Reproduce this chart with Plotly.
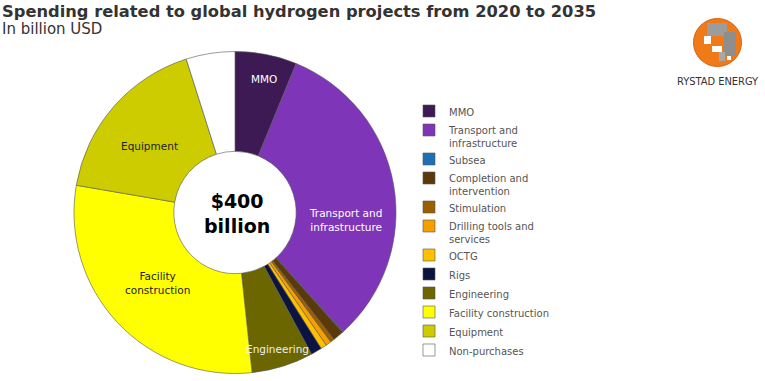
import math
import plotly.graph_objects as go

categories = ["MMO", "Transport and<br>infrastructure", "Subsea", "Completion and<br>intervention",
              "Stimulation", "Drilling tools and<br>services", "OCTG", "Rigs", "Engineering",
              "Facility construction", "Equipment", "Non-purchases"]
values = [24.8, 128.4, 0.3, 4.4, 1.6, 2.2, 2.4, 4.4, 24.8, 117.6, 69.6, 19.6]
slice_labels = ["MMO", "Transport and<br>infrastructure", "", "", "", "", "", "", "Engineering",
                "Facility<br>construction", "Equipment", ""]
colors = ["#3d1a54", "#7f35b8", "#1f6fb5", "#5a3a0a", "#9a6000", "#f5a000", "#ffc000",
          "#0b1440", "#6b6600", "#ffff00", "#cccc00", "#ffffff"]
text_colors = ["white", "white", "white", "white", "white", "white", "black", "white",
               "#eeeeee", "#222222", "#222222", "#222222"]
label_radius = [0.85, 0.69, 0, 0, 0, 0, 0, 0, 0.89, 0.65, 0.675, 0]
label_angle_shift = [1, 14, 0, 0, 0, 0, 0, 0, 0, 1, -3, 0]
total_label = "$400<br>billion"

W, H = 765, 381
cx, cy, r = 235, 212.5, 161

fig = go.Figure(go.Pie(
    labels=categories, values=values, textinfo="none",
    marker=dict(colors=colors, line=dict(color="#555555", width=0.6)),
    hole=0.38, sort=False, direction="clockwise", rotation=0,
    domain=dict(x=[(cx - r) / W, (cx + r) / W], y=[1 - (cy + r) / H, 1 - (cy - r) / H]),
    hoverinfo="label+value",
))

# in-slice labels near the mid-angle of each slice
total = sum(values)
cum = 0.0
for v, lab, col, fr, sh in zip(values, slice_labels, text_colors, label_radius, label_angle_shift):
    mid = (cum + v / 2) / total * 2 * math.pi + math.radians(sh)
    cum += v
    if not lab:
        continue
    px = cx + fr * r * math.sin(mid)
    py = cy - fr * r * math.cos(mid)
    fig.add_annotation(text=lab, x=px / W, y=1 - py / H, xref="paper", yref="paper",
                       xanchor="center", yanchor="middle",
                       showarrow=False, font=dict(family="DejaVu Sans", size=10.5, color=col))

fig.add_annotation(text="<b>" + total_label + "</b>", x=(cx + 1.5) / W, y=1 - 213 / H,
                   xref="paper", yref="paper", xanchor="center", yanchor="middle", showarrow=False,
                   font=dict(family="DejaVu Sans", size=19, color="black"))

fig.add_annotation(text="<b>Spending related to global hydrogen projects from 2020 to 2035</b>",
                   x=0, y=1.0, xref="paper", yref="paper", xanchor="left", yanchor="top",
                   showarrow=False, font=dict(family="DejaVu Sans", size=16.3, color="#333333"))
fig.add_annotation(text="In billion USD", x=0, y=1 - 18 / H, xref="paper", yref="paper",
                   xanchor="left", yanchor="top", showarrow=False,
                   font=dict(family="DejaVu Sans", size=15, color="#333333"))

# logo
def px_rect(x0, y0, x1, y1, color):
    fig.add_shape(type="rect", xref="paper", yref="paper",
                  x0=x0 / W, x1=x1 / W, y0=1 - y1 / H, y1=1 - y0 / H,
                  fillcolor=color, line=dict(width=0))

lx, ly, lr = 717.5, 42.5, 24
fig.add_shape(type="circle", xref="paper", yref="paper",
              x0=(lx - lr) / W, x1=(lx + lr) / W, y0=1 - (ly + lr) / H, y1=1 - (ly - lr) / H,
              fillcolor="#f07a18", line=dict(color="#d9630c", width=1))
px_rect(707, 23, 727, 36, "#9c9c9c")
px_rect(724, 32, 736, 56, "#8e8e8e")
px_rect(704, 36, 711, 44, "#ffffff")
px_rect(712, 46, 722, 52, "#ffffff")
px_rect(719, 52, 725, 61, "#a8a8a8")
px_rect(727, 56, 731, 60, "#ffffff")
fig.add_annotation(text="RYSTAD ENERGY", x=lx / W, y=1 - 81.5 / H, xref="paper", yref="paper",
                   xanchor="center", yanchor="middle",
                   showarrow=False, font=dict(family="DejaVu Sans Condensed", size=11, color="#333333"))

fig.update_layout(
    width=W, height=H, margin=dict(l=0, r=0, t=0, b=0),
    paper_bgcolor="white", plot_bgcolor="white",
    showlegend=True,
    legend=dict(x=409 / W, y=1 - 98 / H, xanchor="left", yanchor="top", valign="top",
                font=dict(family="DejaVu Sans", size=10, color="#555555"),
                itemwidth=30, traceorder="normal", bgcolor="rgba(0,0,0,0)"),
)

fig.write_html("out.html", config={"displayModeBar": False},
               post_script="document.body.style.margin='0';")
